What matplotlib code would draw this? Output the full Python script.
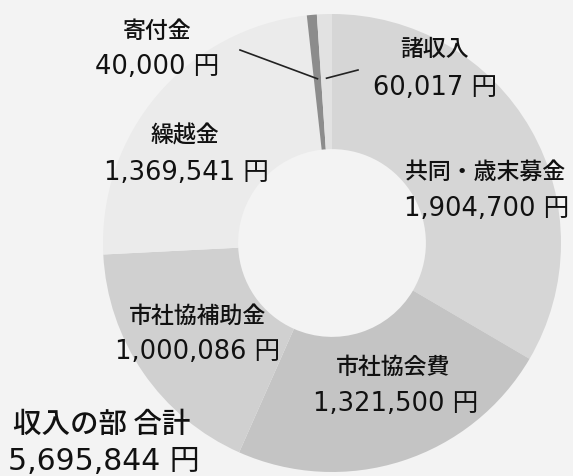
import matplotlib.pyplot as plt
import numpy as np

plt.rcParams['font.family'] = ['Noto Sans CJK JP', 'DejaVu Sans']

# data, clockwise from 12 o'clock
names = ['共同・歳末募金', '市社協会費', '市社協補助金', '繰越金', '寄付金', '諸収入']
amounts = [1904700, 1321500, 1000086, 1369541, 40000, 60017]
total_name = '収入の部 合計'
total_amount = 5695844

colors = ['#d6d6d6', '#c4c4c4', '#d0d0d0', '#ebebeb', '#8c8c8c', '#e2e2e2']
bg = '#f3f3f3'
num_font = ['DejaVu Sans', 'Noto Sans CJK JP']

W, H = 573, 476
cx, cy, R = 332, 243, 229


def px(x, y):
    # pixel position in the picture -> pie data units
    return (x - cx) / R, (cy - y) / R


# label centres in pixels (name line, amount line)
label_pos = {
    '共同・歳末募金': ((485, 172), (487, 209)),
    '市社協会費': ((393, 367), (396, 404)),
    '市社協補助金': ((198, 316), (198, 352)),
    '繰越金': ((185, 136), (186, 173)),
    '寄付金': ((157, 32), (157, 67)),
    '諸収入': ((435, 49), (435, 88)),
}
# small slices get a leader line from this pixel point to the wedge
leader_start = {'寄付金': (240, 50), '諸収入': (358, 70)}

fig = plt.figure(figsize=(W / 100, H / 100), dpi=100, facecolor=bg)
ax = fig.add_axes([(cx - R) / W, (H - cy - R) / H, 2 * R / W, 2 * R / H])
ax.set_facecolor(bg)

wedges, _ = ax.pie(amounts, colors=colors, startangle=90, counterclock=False,
                   radius=1, wedgeprops=dict(width=0.59, linewidth=0))
ax.set_xlim(-1, 1)
ax.set_ylim(-1, 1)
ax.set_aspect('equal')
ax.axis('off')

for w, name, amt in zip(wedges, names, amounts):
    (nx, ny), (vx, vy) = label_pos[name]
    ax.text(*px(nx, ny), name, fontsize=16.5, ha='center', va='center',
            color='#111111', fontweight='medium', clip_on=False)
    ax.text(*px(vx, vy), f'{amt:,} 円', fontsize=18.5, ha='center', va='center',
            color='#111111', family=num_font, clip_on=False)
    if name in leader_start:
        mid = np.deg2rad((w.theta1 + w.theta2) / 2)
        ex, ey = 0.72 * np.cos(mid), 0.72 * np.sin(mid)
        sx, sy = px(*leader_start[name])
        ax.plot([sx, ex], [sy, ey], color='#222222', lw=1.2, clip_on=False)

fig.text(13 / W, 1 - 424 / H, total_name, fontsize=20.5, ha='left', va='center',
         color='#111111', fontweight='medium')
fig.text(8 / W, 1 - 461 / H, f'{total_amount:,} 円', fontsize=21.5, ha='left',
         va='center', color='#111111', family=num_font)

fig.savefig('out.png', dpi=100, facecolor=bg)
